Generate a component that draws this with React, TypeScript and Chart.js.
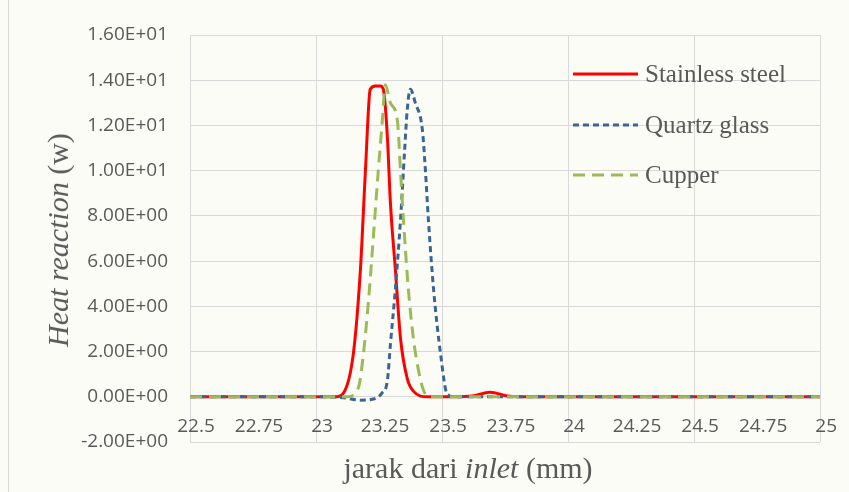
import React, { useEffect, useRef } from "react";
import { Chart, registerables } from "chart.js";

Chart.register(...registerables);

// ---- Data ----
const xTicks = [22.5, 22.75, 23, 23.25, 23.5, 23.75, 24, 24.25, 24.5, 24.75, 25];
const yTicks = [-2, 0, 2, 4, 6, 8, 10, 12, 14, 16];
const seriesNames = ["Stainless steel", "Quartz glass", "Cupper"];

const steelX = [22.5, 23.0, 23.08, 23.108, 23.148, 23.176, 23.196, 23.215, 23.235, 23.255, 23.267, 23.283, 23.295, 23.315, 23.335, 23.362, 23.386, 23.442, 23.55, 23.62, 23.69, 23.76, 23.8, 24.5, 25];
const steelY = [0, 0, 0, 0.15, 1.9, 5.6, 10.0, 13.6, 13.75, 13.75, 13.6, 11.5, 8.6, 5.6, 2.6, 0.8, 0.25, 0, 0, 0.03, 0.2, 0.03, 0, 0, 0];

const quartzX = [22.5, 23.0, 23.1, 23.176, 23.227, 23.263, 23.283, 23.295, 23.315, 23.335, 23.351, 23.362, 23.374, 23.394, 23.422, 23.434, 23.446, 23.466, 23.494, 23.521, 23.553, 24.0, 25];
const quartzY = [0, 0, -0.03, -0.15, -0.1, 0.18, 0.7, 2.3, 4.8, 7.8, 10.8, 12.7, 13.6, 13.0, 11.8, 10.0, 7.8, 4.8, 1.9, 0.1, 0, 0, 0];

const cupperX = [22.5, 23.0, 23.124, 23.168, 23.188, 23.207, 23.227, 23.247, 23.263, 23.275, 23.295, 23.323, 23.335, 23.347, 23.366, 23.386, 23.406, 23.426, 23.446, 24.0, 25];
const cupperY = [0, 0, 0, 0.4, 1.9, 4.1, 7.0, 10.0, 12.2, 13.8, 13.0, 12.2, 10.0, 7.8, 4.8, 2.6, 1.2, 0.3, 0, 0, 0];

const toPoints = (xs: number[], ys: number[]) => xs.map((x, i) => ({ x, y: ys[i] }));

const fmtExp = (v: number) => {
  if (v === 0) return "0.00E+00";
  const e = Math.floor(Math.log10(Math.abs(v)) + 1e-9);
  const m = v / Math.pow(10, e);
  return `${m.toFixed(2)}E${e < 0 ? "-" : "+"}${String(Math.abs(e)).padStart(2, "0")}`;
};

const GRID = "#d9d9d9";
const TEXT = "#595959";
const tickFont = { family: "'Open Sans', sans-serif", size: 19 };

const legendPlugin = {
  id: "insideLegend",
  afterDatasetsDraw(chart: any) {
    const ctx = chart.ctx;
    const ys = [74, 125, 175];
    chart.data.datasets.forEach((ds: any, i: number) => {
      const y = ys[i];
      ctx.save();
      ctx.strokeStyle = ds.borderColor;
      ctx.lineWidth = ds.borderWidth;
      ctx.setLineDash(ds.borderDash || []);
      ctx.beginPath();
      ctx.moveTo(573, y);
      ctx.lineTo(638, y);
      ctx.stroke();
      ctx.setLineDash([]);
      ctx.font = "25px 'Liberation Serif', serif";
      ctx.fillStyle = TEXT;
      ctx.textBaseline = "middle";
      ctx.textAlign = "left";
      ctx.fillText(ds.label, 645, y + 1);
      ctx.restore();
    });
  },
};

export default function App() {
  const ref = useRef<HTMLCanvasElement>(null);

  useEffect(() => {
    if (!ref.current) return;
    const chart = new Chart(ref.current, {
      type: "line",
      data: {
        datasets: [
          {
            label: seriesNames[0],
            data: toPoints(steelX, steelY),
            borderColor: "#ff0000",
            borderWidth: 3,
            pointRadius: 0,
            cubicInterpolationMode: "monotone",
            order: 3,
          },
          {
            label: seriesNames[1],
            data: toPoints(quartzX, quartzY),
            borderColor: "#3a6595",
            borderWidth: 3,
            borderDash: [6, 4],
            pointRadius: 0,
            cubicInterpolationMode: "monotone",
            order: 2,
          },
          {
            label: seriesNames[2],
            data: toPoints(cupperX, cupperY),
            borderColor: "#9bbb59",
            borderWidth: 3,
            borderDash: [12, 7],
            pointRadius: 0,
            cubicInterpolationMode: "monotone",
            order: 1,
          },
        ],
      },
      options: {
        responsive: false,
        animation: false,
        layout: { padding: { left: 0, top: 35, right: 19, bottom: 50 } },
        plugins: {
          legend: { display: false },
          tooltip: { enabled: false },
        },
        scales: {
          x: {
            type: "linear",
            min: 22.5,
            max: 25,
            position: { y: 0 } as any,
            afterBuildTicks: (s: any) => {
              s.ticks = xTicks.map((v) => ({ value: v }));
            },
            ticks: {
              callback: (v: any) => String(Math.round(Number(v) * 100) / 100),
              padding: 18,
              labelOffset: 6,
              font: tickFont,
              color: TEXT,
              maxRotation: 0,
              autoSkip: false,
            },
            grid: {
              color: (c: any) =>
                c.tick && Math.abs(c.tick.value * 2 - Math.round(c.tick.value * 2)) < 1e-6 ? GRID : "rgba(0,0,0,0)",
              drawTicks: false,
              lineWidth: 1,
            },
            border: { display: false },
          },
          y: {
            type: "linear",
            min: -2,
            max: 16,
            afterBuildTicks: (s: any) => {
              s.ticks = yTicks.map((v) => ({ value: v }));
            },
            afterFit: (s: any) => {
              s.width = 190;
            },
            ticks: {
              callback: (v: any) => fmtExp(Number(v)),
              padding: 22,
              font: tickFont,
              color: TEXT,
            },
            grid: { color: GRID, drawTicks: false, lineWidth: 1 },
            border: { display: false },
          },
        },
      },
      plugins: [legendPlugin],
    });
    return () => chart.destroy();
  }, []);

  return (
    <div
      style={{
        position: "fixed",
        left: 0,
        top: 0,
        width: 849,
        height: 492,
        background: "#fcfcf7",
        overflow: "hidden",
      }}
    >
      <div style={{ position: "absolute", left: 8, top: 0, width: 1, height: 492, background: "#d9d9d9" }} />
      <canvas ref={ref} width={849} height={492} style={{ position: "absolute", left: 0, top: 0 }} />
      <div
        style={{
          position: "absolute",
          left: 468,
          top: 453,
          transform: "translateX(-50%)",
          font: "30px 'Liberation Serif', serif",
          lineHeight: "30px",
          color: TEXT,
          whiteSpace: "nowrap",
        }}
      >
        jarak dari <i>inlet</i> (mm)
      </div>
      <div
        style={{
          position: "absolute",
          left: 58,
          top: 240,
          transform: "translate(-50%, -50%) rotate(-90deg)",
          font: "30px 'Liberation Serif', serif",
          lineHeight: "30px",
          color: TEXT,
          whiteSpace: "nowrap",
        }}
      >
        <i>Heat reaction</i> (w)
      </div>
    </div>
  );
}
